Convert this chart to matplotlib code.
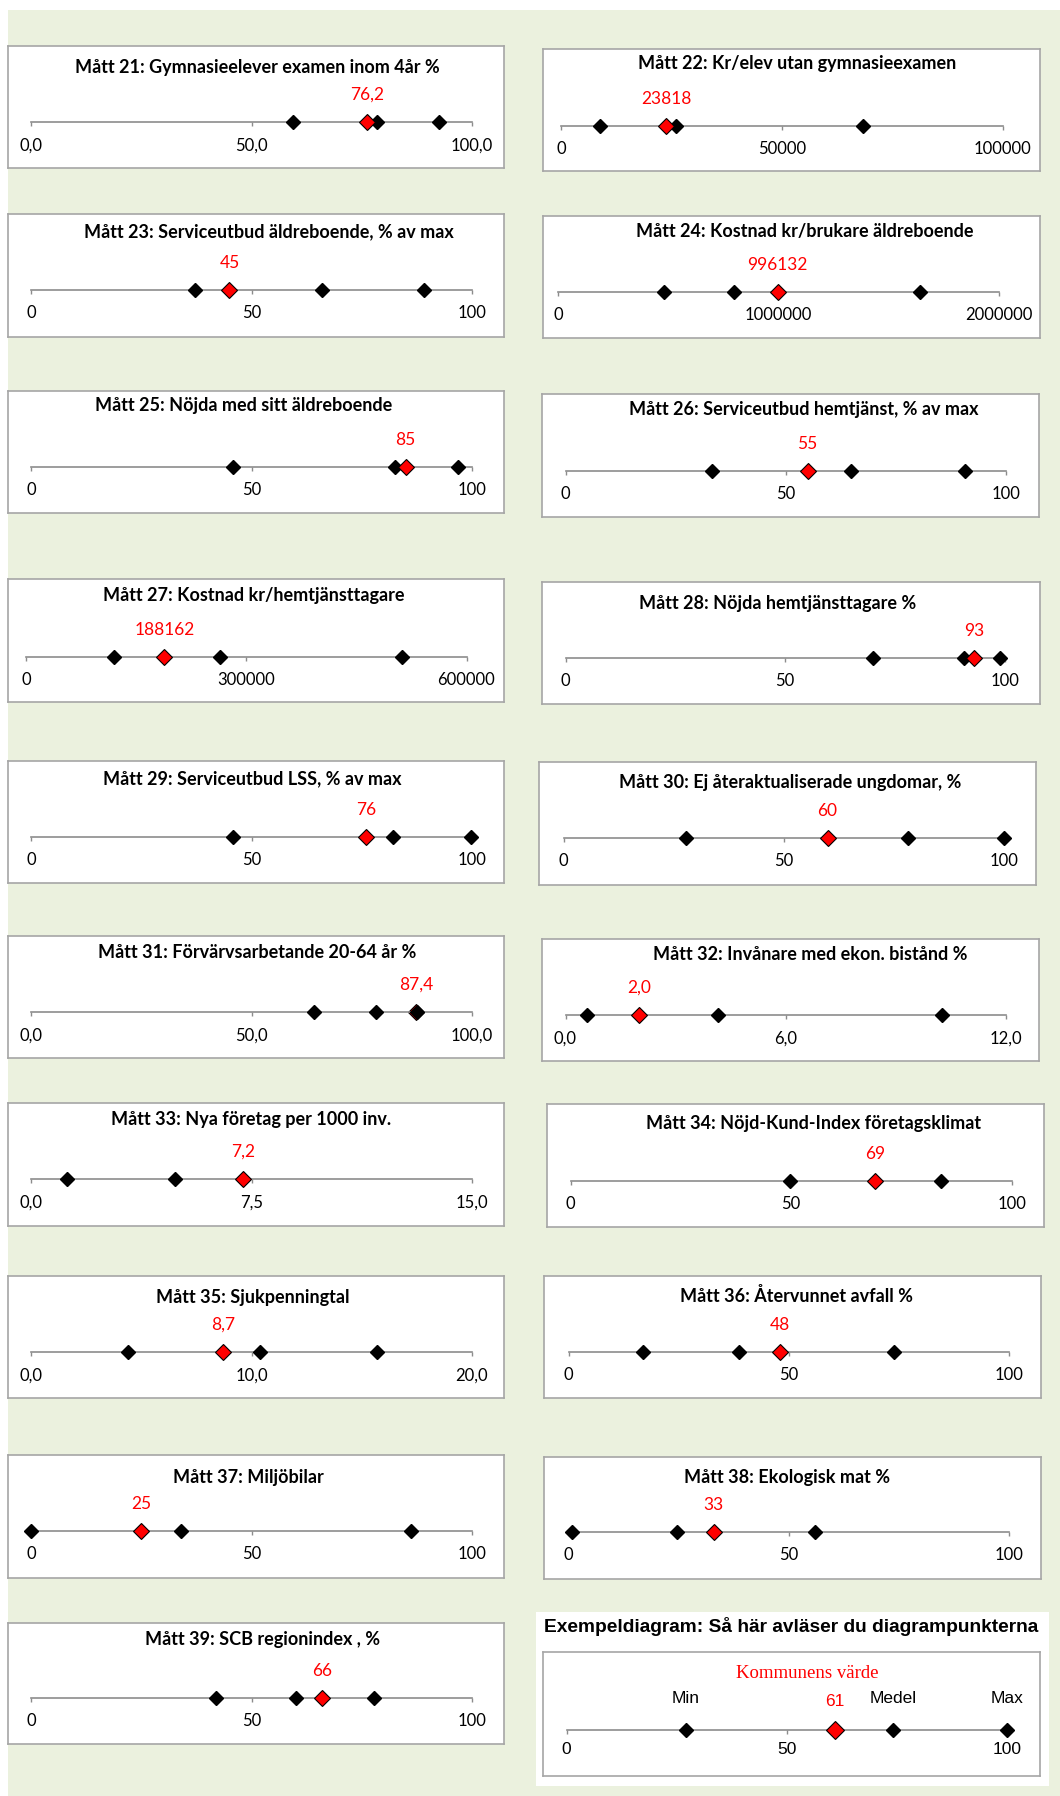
import matplotlib
matplotlib.use("Agg")
from matplotlib import pyplot as plt
from matplotlib.patches import Rectangle


W, H = 1060, 1796
DPI = 100

BG = "#EBF1DE"
RED = "#FF0000"
LINE_GRAY = "#8C8C8C"
BOX_GRAY = "#A6A6A6"
FONT = "Lato"

# ---- data ------------------------------------------------------------
numbers = [21, 22, 23, 24, 25, 26, 27, 28, 29, 30, 31, 32, 33, 34, 35, 36, 37, 38, 39]
titles = [
	"Gymnasieelever examen inom 4år %",
	"Kr/elev utan gymnasieexamen",
	"Serviceutbud äldreboende, % av max",
	"Kostnad kr/brukare äldreboende",
	"Nöjda med sitt äldreboende",
	"Serviceutbud hemtjänst, % av max",
	"Kostnad kr/hemtjänsttagare",
	"Nöjda hemtjänsttagare %",
	"Serviceutbud LSS, % av max",
	"Ej återaktualiserade ungdomar, %",
	"Förvärvsarbetande 20-64 år %",
	"Invånare med ekon. bistånd %",
	"Nya företag per 1000 inv.",
	"Nöjd-Kund-Index företagsklimat",
	"Sjukpenningtal",
	"Återvunnet avfall %",
	"Miljöbilar",
	"Ekologisk mat %",
	"SCB regionindex , %",
]
axis_max = [100, 100000, 100, 2000000, 100, 100, 600000, 100, 100, 100,
	100, 12, 15, 100, 20, 100, 100, 100, 100]
decimals = [1, 0, 0, 0, 0, 0, 0, 0, 0, 0, 1, 1, 1, 0, 1, 0, 0, 0, 0]
kommun = [76.2, 23818, 45, 996132, 85, 55, 188162, 93, 76, 60,
	87.4, 2.0, 7.2, 69, 8.7, 48, 25, 33, 66]
# min / medel / max for the other municipalities (black diamonds)
others = [
	[59.4, 78.6, 92.7],
	[8700, 26000, 68400],
	[37.2, 66.1, 89.2],
	[482000, 797000, 1641000],
	[45.9, 82.7, 96.9],
	[33.2, 64.8, 90.8],
	[119000, 264500, 512000],
	[70.1, 90.8, 99.0],
	[45.9, 82.2, 99.8],
	[27.9, 78.3, 100.0],
	[64.3, 78.3, 87.5],
	[0.58, 4.15, 10.27],
	[1.2, 4.9, 7.2],
	[49.8, 84.0],
	[4.4, 10.4, 15.7],
	[16.9, 38.8, 73.9],
	[0.0, 34.0, 86.2],
	[0.8, 24.6, 56.0],
	[41.9, 60.0, 77.9],
]
red_below = [31]   # red point hidden under a black one

ex_title = "Exempeldiagram: Så här avläser du diagrampunkterna"
ex_names = ["Min", "Medel", "Max"]
ex_others = [27.1, 74.1, 100]
ex_kommun = 61
ex_max = 100

# ---- layout in pixels ------------------------------------------------
# box x0, x1, top, bottom, axis x0, x1, axis y, title centre x, title dy
LAYOUT = [
	(8, 504, 46, 168, 31.4, 471.6, 122, 257.6, 21),
	(543.2, 1040.1, 49, 171, 561.4, 1002.6, 126, 796.7, 15),
	(8, 504, 214, 337, 31.4, 471.6, 290, 268.8, 18),
	(543.2, 1040.1, 216, 338, 558.4, 998.6, 292, 804.8, 16),
	(8, 504, 391, 513, 31.4, 471.6, 467, 243.4, 14),
	(542.2, 1039.1, 394, 517, 565.5, 1005.7, 471, 803.8, 15),
	(8, 504, 579, 702, 26.4, 466.5, 657, 253.6, 16),
	(542.2, 1040.1, 582, 704, 565.5, 1004.6, 658, 777.5, 21),
	(8, 504, 761, 883, 31.4, 471.6, 837, 252.5, 18),
	(539.1, 1036.1, 762, 885, 563.5, 1003.6, 838, 790.6, 20),
	(8, 504, 936, 1058, 31.4, 471.6, 1012, 257.6, 17),
	(542.2, 1039.1, 939, 1061, 565.5, 1005.7, 1015, 809.9, 15),
	(8, 504, 1103, 1226, 31.4, 471.6, 1179, 251.5, 16),
	(547.2, 1044.2, 1104, 1227, 570.6, 1011.7, 1181, 814, 19),
	(8, 504, 1276, 1398, 31.4, 471.6, 1352, 252.5, 22),
	(544.2, 1041.2, 1276, 1398, 568.5, 1008.7, 1352, 796.7, 20),
	(8, 504, 1455, 1578, 31.4, 471.6, 1531, 248.5, 23),
	(544.2, 1041.2, 1457, 1579, 568.5, 1008.7, 1532, 786.6, 20),
	(8, 504, 1623, 1744, 31.4, 471.6, 1698, 262.7, 16),
]


def fmt(v, d):
	return "{:.{}f}".format(v, d).replace(".", ",")


def rect(x0, x1, y0, y1):
	return [x0 / W, 1 - y1 / H, (x1 - x0) / W, (y1 - y0) / H]


def draw_box(fig, x0, x1, y0, y1):
	box = fig.add_axes(rect(x0, x1, y0, y1))
	box.set_facecolor("white")
	box.set_xticks([])
	box.set_yticks([])
	for s in box.spines.values():
		s.set_color(BOX_GRAY)
		s.set_linewidth(1.2)
	return box


def number_line(fig, ax0, ax1, ay, vmax, ticklabels, fontsize, family):
	ax = fig.add_axes(rect(ax0, ax1, ay - 1, ay))
	ax.set_facecolor("none")
	ax.set_xlim(0, vmax)
	ax.set_ylim(0, 1)
	for side in ["top", "left", "right"]:
		ax.spines[side].set_visible(False)
	ax.spines["bottom"].set_color(LINE_GRAY)
	ax.spines["bottom"].set_linewidth(1.2)
	ax.set_yticks([])
	ax.set_xticks([0, vmax / 2, vmax])
	ax.set_xticklabels(ticklabels, fontsize=fontsize, family=family)
	ax.tick_params(axis="x", direction="out", length=3, width=1,
		color=LINE_GRAY, pad=8)
	return ax


def draw_panel(fig, i):
	x0, x1, y0, y1, ax0, ax1, ay, tcx, tdy = LAYOUT[i]
	draw_box(fig, x0, x1, y0, y1)
	fig.text(tcx / W, 1 - (y0 + tdy) / H,
		"Mått {}: {}".format(numbers[i], titles[i]),
		ha="center", va="center", fontsize=13, weight="bold", family=FONT)

	vmax = axis_max[i]
	d = decimals[i]
	labels = [fmt(t, d) for t in [0, vmax / 2, vmax]]
	ax = number_line(fig, ax0, ax1, ay, vmax, labels, 12, FONT)

	zr = 2 if numbers[i] in red_below else 4
	ax.plot(others[i], [0] * len(others[i]), "D", color="black", ms=7,
		clip_on=False, zorder=3)
	ax.plot([kommun[i]], [0], "D", mfc=RED, mec="black", mew=0.8, ms=8.4,
		clip_on=False, zorder=zr)
	ax.annotate(fmt(kommun[i], d), (kommun[i], 0), xytext=(0, 19.5),
		textcoords="offset points", ha="center", va="center",
		color=RED, fontsize=12.5, family=FONT)


def draw_example(fig):
	fig.patches.append(Rectangle((536 / W, 1 - 1786 / H), 513 / W, 174 / H,
		transform=fig.transFigure, facecolor="white", edgecolor="none", zorder=-0.5))
	fig.text(544.2 / W, 1 - 1627 / H, ex_title, ha="left", va="center",
		fontsize=13.8, weight="bold", family="Liberation Sans")
	draw_box(fig, 543.2, 1040.1, 1652, 1776)

	labels = [fmt(t, 0) for t in [0, ex_max / 2, ex_max]]
	ax = number_line(fig, 566.5, 1006.7, 1730, ex_max, labels, 12.5, "Liberation Sans")
	ax.tick_params(axis="x", pad=6)

	ax.plot(ex_others, [0] * len(ex_others), "D", color="black", ms=7,
		clip_on=False, zorder=3)
	ax.plot([ex_kommun], [0], "D", mfc=RED, mec="black", mew=0.8, ms=9.5,
		clip_on=False, zorder=4)
	for name, v in zip(ex_names, ex_others):
		ax.annotate(name, (v, 0), xytext=(0, 22.5), textcoords="offset points",
			ha="center", va="center", fontsize=12.5, family="Liberation Sans")
	ax.annotate(fmt(ex_kommun, 0), (ex_kommun, 0), xytext=(0, 20.5),
		textcoords="offset points", ha="center", va="center",
		color=RED, fontsize=12.5, family="Liberation Sans")
	ax.annotate("Kommunens värde", (ex_kommun, 0), xytext=(-20, 41),
		textcoords="offset points", ha="center", va="center",
		color=RED, fontsize=13.5, family="Liberation Serif")


def main():
	fig = plt.figure(figsize=(W / DPI, H / DPI), dpi=DPI, facecolor="white")
	fig.patches.append(Rectangle((8 / W, 0), 1 - 8 / W, 1 - 10 / H,
		transform=fig.transFigure, facecolor=BG, edgecolor="none", zorder=-1))

	for i in range(len(numbers)):
		draw_panel(fig, i)
	draw_example(fig)

	fig.savefig("out.png", dpi=DPI, facecolor="white")


main()
